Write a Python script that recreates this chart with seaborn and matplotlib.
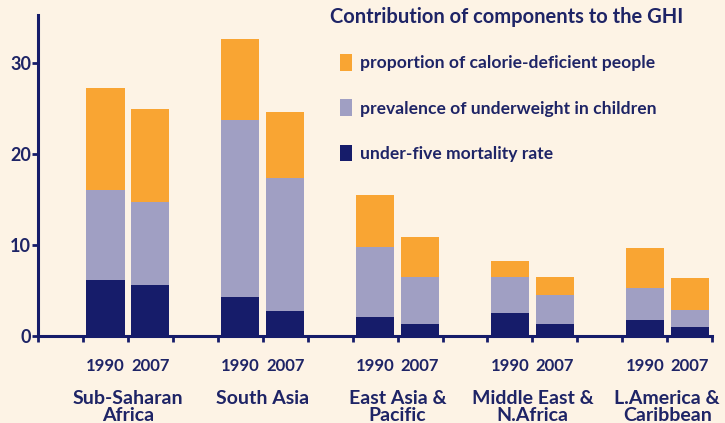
import matplotlib
matplotlib.use("Agg")
import matplotlib.pyplot as plt
from matplotlib.patches import Patch
import seaborn as sns
import pandas as pd
import numpy as np

# ---- data ----
regions = ["Sub-Saharan\nAfrica", "South Asia", "East Asia &\nPacific",
           "Middle East &\nN.Africa", "L.America &\nCaribbean"]
years = ["1990", "2007"]
mortality = [6.2, 5.6, 4.3, 2.8, 2.1, 1.3, 2.5, 1.3, 1.8, 1.0]
underweight = [9.8, 9.1, 19.4, 14.6, 7.7, 5.2, 4.0, 3.2, 3.5, 1.85]
calorie = [11.3, 10.3, 8.9, 7.2, 5.7, 4.4, 1.75, 2.0, 4.4, 3.55]
component_labels = ["proportion of calorie-deficient people",
                    "prevalence of underweight in children",
                    "under-five mortality rate"]
yticks = [0, 10, 20, 30]

# ---- style ----
BG = "#FDF3E5"
ORANGE = "#F9A533"
GRAY = "#A09FC3"
NAVY = "#161C6A"
TEXT = "#1E2466"
W = "bold"

sns.set_theme(style="white")
plt.rcParams["font.family"] = ["Lato", "DejaVu Sans"]
plt.rcParams["font.weight"] = W

rows = []
for gi, reg in enumerate(regions):
    for yi, yr in enumerate(years):
        k = gi * 2 + yi
        rows.append(dict(pos=gi * 3 + yi + 1.5, region=reg, year=yr,
                         mort=mortality[k],
                         under=mortality[k] + underweight[k],
                         total=mortality[k] + underweight[k] + calorie[k]))
df = pd.DataFrame(rows)

fig = plt.figure(figsize=(7.25, 4.23), dpi=100, facecolor=BG)
ax = fig.add_axes([0.0524, 0.2057, 0.930, 0.759])
ax.set_facecolor(BG)

for col, c in [("total", ORANGE), ("under", GRAY), ("mort", NAVY)]:
    sns.barplot(data=df, x="pos", y=col, native_scale=True, color=c,
                saturation=1, width=0.85, linewidth=0, errorbar=None, ax=ax)

ax.set_xlim(0, 15)
ax.set_ylim(0, 35.3)
ax.set_xlabel("")
ax.set_ylabel("")

for s in ["top", "right"]:
    ax.spines[s].set_visible(False)
for s in ["left", "bottom"]:
    ax.spines[s].set_color(NAVY)
    ax.spines[s].set_linewidth(2.2)

ax.set_yticks(yticks)
ax.set_yticklabels([str(v) for v in yticks])
ax.tick_params(axis="y", which="major", direction="out", length=4, width=2,
               color=NAVY, labelcolor=TEXT, labelsize=13, pad=1, left=True)

ax.set_xticks(np.arange(0, 16))
ax.set_xticklabels([])
ax.tick_params(axis="x", which="major", direction="out", length=4, width=2,
               color=NAVY, bottom=True)
ax.set_xticks(df["pos"].values, minor=True)
ax.set_xticklabels(df["year"].values, minor=True)
ax.tick_params(axis="x", which="minor", length=0, pad=16,
               labelcolor=TEXT, labelsize=12)
for t in ax.get_xticklabels(minor=True) + ax.get_yticklabels():
    t.set_fontweight(W)

for gi, reg in enumerate(regions):
    ax.annotate(reg, xy=(gi * 3 + 2.0, 0), xycoords=("data", "axes fraction"),
                xytext=(0, -54), textcoords="offset pixels",
                ha="center", va="top", fontsize=14, fontweight=W,
                color=TEXT, linespacing=0.98, annotation_clip=False)

fig.text(330 / 725, 1 - 7 / 423, "Contribution of components to the GHI",
         ha="left", va="top", fontsize=14.5, fontweight=W, color=TEXT)

handles = [Patch(facecolor=c, edgecolor="none") for c in (ORANGE, GRAY, NAVY)]
leg = fig.legend(handles, component_labels, loc="upper left",
                 bbox_to_anchor=(340 / 725, 1 - 54 / 423), frameon=False,
                 borderpad=0, borderaxespad=0, handlelength=0.7,
                 handleheight=1.1, handletextpad=0.45, labelspacing=1.6,
                 prop={"size": 12.6, "weight": W})
for t in leg.get_texts():
    t.set_color(TEXT)

fig.savefig("out.png", dpi=100, facecolor=BG)
